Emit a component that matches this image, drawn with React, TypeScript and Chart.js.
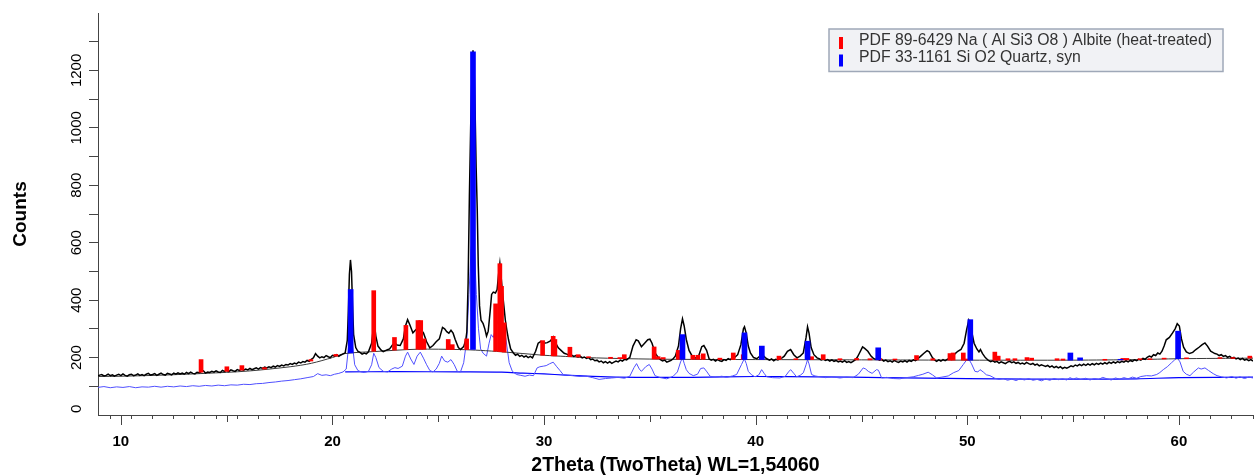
import React, { useEffect, useRef } from "react";
import { Chart, registerables } from "chart.js";

Chart.register(...registerables);

// ---------- axis ranges & labels ----------
const X_MIN = 8.92;
const X_MAX = 63.5;
const Y_MIN = 0;
const Y_MAX = 1400;
const xTickLabels = [10, 20, 30, 40, 50, 60];
const yTickLabels = [0, 200, 400, 600, 800, 1000, 1200];
const xTitle = "2Theta (TwoTheta) WL=1,54060";
const yTitle = "Counts";
const albiteLabel = "PDF 89-6429 Na ( Al Si3 O8 ) Albite (heat-treated)";
const quartzLabel = "PDF 33-1161 Si O2 Quartz, syn";

// ---------- measured scan (black) [2theta, counts] ----------
const sampleScan: [number, number][] = [
  [8.9, 136], [9.0, 139], [9.1, 141], [9.2, 136], [9.3, 138], [9.4, 142], [9.5, 137], [9.6, 140],
  [9.7, 135], [9.8, 139], [9.9, 142], [10.0, 137], [10.1, 143], [10.2, 138], [10.3, 135], [10.4, 140],
  [10.5, 142], [10.6, 137], [10.7, 139], [10.8, 143], [10.9, 138], [11.0, 141], [11.1, 137], [11.2, 142],
  [11.3, 145], [11.4, 139], [11.5, 141], [11.6, 144], [11.7, 138], [11.8, 142], [11.9, 146], [12.0, 141],
  [12.1, 139], [12.2, 145], [12.3, 143], [12.4, 140], [12.5, 146], [12.6, 142], [12.7, 147], [12.8, 143],
  [12.9, 146], [13.0, 142], [13.1, 148], [13.2, 144], [13.3, 149], [13.4, 145], [13.5, 143], [13.6, 149],
  [13.7, 147], [13.8, 151], [13.9, 154], [14.0, 146], [14.1, 150], [14.2, 148], [14.3, 152], [14.4, 149],
  [14.5, 154], [14.6, 150], [14.7, 148], [14.8, 155], [14.9, 152], [15.0, 156], [15.1, 151], [15.2, 157],
  [15.3, 154], [15.4, 152], [15.5, 158], [15.6, 155], [15.7, 159], [15.8, 156], [15.9, 160], [16.0, 157],
  [16.1, 162], [16.2, 158], [16.3, 161], [16.4, 164], [16.5, 160], [16.6, 165], [16.7, 162], [16.8, 167],
  [16.9, 164], [17.0, 168], [17.1, 165], [17.2, 170], [17.3, 167], [17.4, 172], [17.5, 169], [17.6, 174],
  [17.7, 171], [17.8, 176], [17.9, 174], [18.0, 179], [18.1, 176], [18.2, 181], [18.3, 178], [18.4, 184],
  [18.5, 181], [18.6, 186], [18.7, 184], [18.8, 190], [18.9, 187], [19.0, 194], [19.1, 199], [19.2, 214],
  [19.3, 205], [19.4, 199], [19.5, 203], [19.6, 200], [19.7, 207], [19.8, 203], [19.9, 200], [20.0, 208],
  [20.1, 205], [20.2, 210], [20.3, 204], [20.4, 209], [20.5, 213], [20.6, 216], [20.7, 260], [20.75, 360],
  [20.8, 490], [20.85, 540], [20.9, 500], [20.95, 380], [21.0, 280], [21.1, 235], [21.2, 222], [21.3, 218],
  [21.4, 212], [21.5, 216], [21.6, 213], [21.7, 220], [21.85, 250], [21.95, 315], [22.0, 305], [22.05, 275],
  [22.15, 240], [22.3, 226], [22.4, 221], [22.5, 224], [22.6, 227], [22.7, 230], [22.85, 245], [22.95, 250],
  [23.05, 244], [23.2, 242], [23.35, 265], [23.45, 310], [23.55, 332], [23.65, 315], [23.8, 286], [23.95, 298],
  [24.05, 305], [24.15, 300], [24.3, 286], [24.45, 255], [24.6, 234], [24.75, 242], [24.9, 255], [25.05, 265],
  [25.2, 305], [25.3, 300], [25.4, 290], [25.5, 285], [25.6, 295], [25.7, 285], [25.8, 263], [25.95, 235],
  [26.05, 228], [26.2, 238], [26.3, 262], [26.35, 290], [26.41, 460], [26.47, 760], [26.53, 1000], [26.59, 1180],
  [26.64, 1270], [26.69, 1220], [26.74, 1060], [26.79, 860], [26.84, 720], [26.89, 520], [26.95, 380],
  [27.02, 330], [27.12, 318], [27.2, 300], [27.28, 275], [27.36, 292], [27.45, 360], [27.52, 420], [27.6, 428],
  [27.7, 425], [27.78, 437], [27.85, 490], [27.91, 528], [27.97, 480], [28.03, 430], [28.1, 380], [28.17, 330],
  [28.24, 296], [28.32, 262], [28.42, 230], [28.55, 216], [28.65, 208], [28.75, 212], [28.85, 204],
  [28.95, 208], [29.05, 202], [29.15, 206], [29.25, 200], [29.35, 204], [29.45, 199], [29.6, 222], [29.72, 250],
  [29.85, 256], [30.0, 250], [30.15, 252], [30.3, 258], [30.43, 272], [30.55, 250], [30.67, 234], [30.8, 225],
  [30.95, 215], [31.1, 211], [31.2, 206], [31.3, 209], [31.4, 204], [31.5, 207], [31.6, 202], [31.7, 205],
  [31.8, 199], [31.9, 202], [32.0, 197], [32.1, 200], [32.2, 193], [32.3, 195], [32.4, 189], [32.5, 191],
  [32.6, 185], [32.7, 188], [32.8, 182], [32.9, 186], [33.0, 181], [33.1, 186], [33.2, 180], [33.3, 184],
  [33.4, 188], [33.5, 185], [33.6, 191], [33.7, 188], [33.8, 194], [33.9, 192], [34.0, 198], [34.05, 200],
  [34.2, 240], [34.35, 262], [34.45, 258], [34.6, 238], [34.75, 250], [34.9, 262], [35.0, 264], [35.1, 250],
  [35.25, 215], [35.4, 200], [35.5, 193], [35.6, 188], [35.7, 191], [35.8, 184], [35.9, 187], [36.0, 190],
  [36.1, 196], [36.2, 205], [36.35, 240], [36.45, 300], [36.54, 335], [36.62, 310], [36.72, 263], [36.85, 225],
  [37.0, 205], [37.1, 201], [37.2, 197], [37.3, 205], [37.45, 238], [37.55, 242], [37.68, 225], [37.8, 195],
  [37.9, 191], [38.0, 194], [38.1, 188], [38.2, 193], [38.3, 189], [38.4, 187], [38.5, 193], [38.6, 190],
  [38.7, 196], [38.8, 193], [38.9, 199], [39.0, 200], [39.15, 210], [39.3, 245], [39.42, 300], [39.47, 307],
  [39.55, 286], [39.65, 240], [39.75, 216], [39.9, 200], [40.05, 196], [40.2, 205], [40.3, 211], [40.45, 200],
  [40.55, 195], [40.65, 191], [40.75, 195], [40.85, 189], [40.95, 194], [41.05, 192], [41.15, 197],
  [41.25, 199], [41.35, 205], [41.5, 222], [41.65, 228], [41.8, 210], [41.95, 199], [42.1, 205], [42.25, 216],
  [42.38, 270], [42.45, 307], [42.52, 285], [42.62, 235], [42.75, 210], [42.9, 199], [43.0, 196], [43.1, 192],
  [43.2, 195], [43.3, 190], [43.4, 193], [43.5, 188], [43.6, 192], [43.7, 187], [43.8, 190], [43.9, 185],
  [44.0, 188], [44.1, 184], [44.2, 189], [44.3, 183], [44.4, 186], [44.5, 182], [44.6, 187], [44.7, 192],
  [44.8, 201], [44.9, 215], [45.05, 237], [45.15, 232], [45.3, 222], [45.45, 205], [45.55, 198], [45.65, 194],
  [45.75, 196], [45.85, 191], [45.95, 194], [46.05, 188], [46.15, 191], [46.25, 186], [46.35, 189],
  [46.45, 184], [46.55, 190], [46.65, 186], [46.75, 183], [46.85, 188], [46.95, 185], [47.05, 189],
  [47.15, 184], [47.25, 190], [47.35, 187], [47.45, 192], [47.55, 189], [47.65, 195], [47.8, 205],
  [47.95, 215], [48.1, 224], [48.2, 220], [48.35, 200], [48.45, 192], [48.55, 187], [48.65, 192], [48.75, 188],
  [48.85, 193], [48.95, 189], [49.05, 194], [49.2, 200], [49.4, 212], [49.55, 222], [49.7, 228], [49.85, 250],
  [49.97, 298], [50.07, 330], [50.15, 315], [50.22, 286], [50.32, 250], [50.45, 230], [50.55, 220],
  [50.62, 228], [50.72, 214], [50.85, 200], [51.0, 190], [51.1, 186], [51.2, 189], [51.3, 184], [51.4, 187],
  [51.5, 181], [51.6, 185], [51.7, 182], [51.8, 179], [51.9, 184], [52.0, 187], [52.1, 182], [52.2, 185],
  [52.3, 180], [52.4, 183], [52.5, 178], [52.6, 181], [52.7, 177], [52.8, 183], [52.9, 179], [53.0, 176],
  [53.1, 180], [53.2, 174], [53.3, 177], [53.4, 171], [53.5, 175], [53.6, 172], [53.7, 169], [53.8, 173],
  [53.9, 167], [54.0, 171], [54.1, 165], [54.2, 169], [54.3, 164], [54.4, 168], [54.5, 162], [54.6, 166],
  [54.7, 163], [54.8, 167], [54.9, 171], [55.0, 168], [55.1, 174], [55.2, 171], [55.3, 176], [55.4, 172],
  [55.5, 177], [55.6, 173], [55.7, 178], [55.8, 174], [55.9, 179], [56.0, 175], [56.1, 180], [56.2, 176],
  [56.3, 181], [56.4, 177], [56.5, 182], [56.6, 178], [56.7, 184], [56.8, 180], [56.9, 185], [57.0, 181],
  [57.1, 186], [57.2, 182], [57.3, 187], [57.4, 184], [57.5, 189], [57.6, 185], [57.7, 190], [57.8, 187],
  [57.9, 192], [58.0, 189], [58.1, 194], [58.2, 191], [58.3, 197], [58.4, 194], [58.5, 201], [58.6, 205],
  [58.7, 202], [58.8, 210], [58.9, 207], [59.0, 216], [59.1, 212], [59.2, 222], [59.3, 240], [59.4, 262],
  [59.55, 270], [59.7, 286], [59.82, 300], [59.92, 318], [60.02, 310], [60.12, 265], [60.22, 236],
  [60.35, 220], [60.5, 214], [60.65, 218], [60.8, 228], [60.95, 236], [61.1, 245], [61.23, 251], [61.35, 240],
  [61.5, 222], [61.6, 218], [61.7, 214], [61.8, 212], [61.9, 207], [62.0, 210], [62.1, 204], [62.2, 207],
  [62.3, 201], [62.4, 204], [62.5, 198], [62.6, 201], [62.7, 195], [62.8, 198], [62.9, 193], [63.0, 197],
  [63.1, 191], [63.2, 194], [63.3, 189], [63.4, 193], [63.5, 188],
];

// ---------- background of measured scan ----------
const sampleBackground: [number, number][] = [
  [8.9, 134], [10, 135], [12, 139], [14, 145], [16, 153], [18, 168], [19, 180], [20, 200], [20.6, 214],
  [22, 221], [24, 229], [26, 228], [27, 225], [28, 220], [29, 214], [30, 208], [31, 204], [32, 200],
  [34, 196], [36, 194], [40, 193], [45, 192], [50, 191], [55, 191], [58, 193], [60, 196], [63.5, 198],
];

// ---------- second scan (blue) ----------
const processedScan: [number, number][] = [
  [8.9, 96], [9.2, 99], [9.5, 95], [9.8, 98], [10.1, 96], [10.4, 99], [10.7, 95], [11.0, 98], [11.3, 97],
  [11.6, 100], [11.9, 97], [12.2, 100], [12.5, 98], [12.8, 101], [13.1, 99], [13.4, 102], [13.7, 100],
  [14.0, 103], [14.3, 101], [14.6, 104], [14.9, 102], [15.2, 105], [15.5, 104], [15.8, 107], [16.1, 106],
  [16.4, 109], [16.7, 110], [17.0, 113], [17.3, 115], [17.6, 118], [17.9, 120], [18.2, 123], [18.5, 126],
  [18.8, 130], [19.1, 134], [19.3, 144], [19.5, 138], [19.7, 140], [19.9, 137], [20.1, 142], [20.3, 145],
  [20.5, 150], [20.65, 160], [20.75, 230], [20.85, 300], [20.95, 240], [21.05, 175], [21.2, 155], [21.35, 150],
  [21.5, 148], [21.7, 152], [21.85, 175], [21.95, 215], [22.05, 200], [22.2, 165], [22.4, 152], [22.6, 150],
  [22.8, 160], [22.95, 165], [23.1, 162], [23.3, 170], [23.45, 205], [23.55, 219], [23.7, 195], [23.85, 176],
  [24.0, 205], [24.15, 219], [24.3, 198], [24.45, 175], [24.6, 155], [24.75, 150], [24.9, 160], [25.05, 180],
  [25.16, 205], [25.3, 188], [25.45, 184], [25.6, 193], [25.75, 176], [25.9, 152], [26.05, 150], [26.2, 182],
  [26.35, 265], [26.45, 420], [26.55, 580], [26.64, 635], [26.72, 560], [26.8, 420], [26.9, 300], [27.0, 230],
  [27.12, 215], [27.28, 205], [27.4, 250], [27.5, 280], [27.6, 270], [27.7, 300], [27.82, 330], [27.93, 345],
  [28.05, 320], [28.2, 263], [28.35, 182], [28.5, 152], [28.7, 141], [28.9, 138], [29.1, 135], [29.3, 139],
  [29.5, 137], [29.67, 164], [29.8, 168], [29.96, 170], [30.1, 172], [30.25, 178], [30.43, 184], [30.6, 168],
  [30.75, 155], [30.9, 141], [31.1, 139], [31.4, 137], [31.7, 134], [32.0, 135], [32.3, 130], [32.6, 124],
  [32.9, 127], [33.2, 129], [33.5, 131], [33.8, 128], [34.05, 135], [34.25, 165], [34.37, 179], [34.5, 160],
  [34.6, 152], [34.8, 168], [34.97, 176], [35.1, 160], [35.24, 137], [35.5, 130], [35.8, 126], [36.1, 135],
  [36.3, 150], [36.45, 185], [36.54, 199], [36.62, 180], [36.72, 158], [36.85, 145], [37.05, 137], [37.25, 142],
  [37.4, 162], [37.55, 164], [37.7, 150], [37.84, 135], [38.1, 132], [38.4, 135], [38.62, 131], [38.9, 136],
  [39.1, 141], [39.33, 176], [39.46, 196], [39.55, 180], [39.65, 152], [39.8, 140], [39.97, 133], [40.15, 140],
  [40.28, 158], [40.4, 145], [40.52, 133], [40.8, 130], [41.14, 129], [41.4, 135], [41.55, 150], [41.65, 158],
  [41.8, 145], [41.93, 133], [42.1, 138], [42.25, 147], [42.38, 175], [42.45, 193], [42.52, 178], [42.64, 141],
  [42.8, 136], [43.04, 133], [43.3, 130], [43.6, 133], [43.98, 129], [44.3, 132], [44.6, 130], [44.85, 142],
  [45.08, 164], [45.2, 160], [45.32, 152], [45.5, 145], [45.71, 158], [45.8, 156], [45.95, 129], [46.2, 131],
  [46.5, 127], [46.81, 126], [47.1, 130], [47.44, 133], [47.7, 138], [47.9, 142], [48.15, 149], [48.35, 140],
  [48.55, 129], [48.8, 132], [49.1, 136], [49.34, 147], [49.6, 155], [49.81, 176], [49.95, 190], [50.09, 192],
  [50.2, 178], [50.36, 152], [50.5, 150], [50.6, 158], [50.75, 150], [50.9, 140], [51.07, 137], [51.3, 128],
  [51.5, 124], [51.7, 127], [51.9, 121], [52.1, 125], [52.3, 120], [52.5, 126], [52.7, 122], [52.9, 127],
  [53.1, 121], [53.3, 124], [53.5, 119], [53.7, 125], [53.9, 121], [54.1, 127], [54.3, 123], [54.5, 126],
  [54.7, 122], [54.85, 130], [55.0, 125], [55.16, 129], [55.35, 124], [55.6, 128], [55.8, 122], [56.0, 127],
  [56.2, 124], [56.4, 131], [56.6, 126], [56.8, 122], [57.0, 129], [57.2, 125], [57.4, 130], [57.6, 126],
  [57.8, 132], [58.0, 128], [58.2, 134], [58.47, 137], [58.7, 136], [58.95, 141], [59.1, 148], [59.26, 158],
  [59.45, 168], [59.65, 182], [59.8, 192], [59.92, 199], [60.05, 185], [60.2, 152], [60.35, 142], [60.52, 137],
  [60.7, 150], [60.92, 164], [61.05, 160], [61.23, 164], [61.4, 155], [61.62, 144], [61.8, 137], [62.0, 133],
  [62.25, 129], [62.5, 134], [62.7, 128], [62.88, 133], [63.1, 127], [63.3, 132], [63.5, 129],
];

// ---------- background of second scan ----------
const processedBackground: [number, number][] = [
  [20.6, 150], [23, 151], [26, 150], [28, 149], [29, 146], [30, 143], [31, 139], [33, 133], [35, 131],
  [37, 131], [40, 134], [43, 133], [46, 130], [50, 127], [53, 125], [56, 125], [58, 126], [60, 130], [63.5, 132],
];

// ---------- reference sticks: [2theta, base counts, top counts] ----------
const albiteSticks: [number, number, number][] = [
  [13.79, 149, 193], [15.01, 152, 168], [15.72, 156, 172], [16.79, 160, 165], [18.98, 188, 193],
  [20.16, 205, 211], [21.95, 222, 433], [22.93, 226, 270], [23.47, 228, 312], [24.04, 229, 329],
  [24.17, 229, 329], [24.32, 229, 265], [25.47, 228, 263], [25.66, 228, 245], [26.34, 228, 265],
  [27.71, 222, 387], [27.91, 221, 527], [27.99, 221, 448], [28.11, 219, 321], [29.93, 208, 259],
  [30.43, 206, 274], [30.51, 206, 263], [31.22, 203, 236], [31.61, 202, 210], [32.1, 200, 203],
  [33.14, 197, 201], [33.58, 196, 200], [33.79, 196, 210], [35.2, 195, 237], [35.39, 195, 203],
  [35.63, 195, 200], [36.34, 194, 225], [37.03, 194, 208], [37.27, 194, 208], [37.52, 194, 213],
  [38.31, 193, 198], [38.94, 193, 216], [39.41, 193, 210], [40.28, 193, 198], [41.1, 193, 205],
  [41.9, 193, 196], [42.64, 193, 203], [43.19, 193, 210], [43.98, 192, 196], [44.77, 192, 197],
  [45.4, 192, 196], [45.87, 192, 196], [46.58, 192, 195], [47.6, 192, 207], [48.37, 191, 196],
  [49.18, 191, 214], [49.33, 191, 216], [49.81, 191, 216], [49.97, 191, 195], [51.3, 191, 219],
  [51.46, 191, 205], [51.92, 191, 196], [52.25, 191, 196], [52.82, 191, 200], [53.04, 191, 198],
  [54.24, 191, 196], [54.52, 191, 195], [56.5, 191, 194], [57.35, 192, 197], [57.54, 192, 197],
  [58.16, 193, 196], [58.63, 193, 196], [59.3, 195, 198], [60.36, 196, 199], [61.94, 197, 200],
  [62.55, 197, 200], [63.35, 198, 205],
];

const quartzSticks: [number, number, number][] = [
  [20.86, 216, 437], [26.64, 228, 1265], [36.54, 194, 280], [39.47, 193, 286], [40.29, 193, 240],
  [42.45, 193, 257], [45.79, 192, 234], [50.14, 191, 332], [54.87, 191, 216], [55.33, 191, 199],
  [57.24, 192, 194], [59.96, 196, 292],
];

const NARROW = "'Liberation Sans Narrow', 'Liberation Sans', Arial, sans-serif";
const SANS = "'Liberation Sans', Arial, Helvetica, sans-serif";

const decorPlugin = {
  id: "xrdDecor",
  afterDraw(chart: any) {
    const { ctx, chartArea, scales } = chart;
    const xs = scales.x;
    const ys = scales.y;
    ctx.save();
    // longer x ticks at every 5 / 10 degrees
    ctx.strokeStyle = "#444";
    ctx.lineWidth = 1;
    for (let v = Math.ceil(X_MIN); v <= X_MAX; v++) {
      if (v % 5 !== 0) continue;
      const px = Math.round(xs.getPixelForValue(v)) + 0.5;
      const len = v % 10 === 0 ? 10 : 7;
      ctx.beginPath();
      ctx.moveTo(px, chartArea.bottom);
      ctx.lineTo(px, chartArea.bottom + len);
      ctx.stroke();
    }
    // rotated y tick labels
    ctx.fillStyle = "#000";
    ctx.font = `15px ${NARROW}`;
    ctx.textAlign = "center";
    ctx.textBaseline = "middle";
    for (const v of yTickLabels) {
      const t = String(v);
      const w = ctx.measureText(t).width;
      let py = ys.getPixelForValue(v);
      py = Math.min(py, chartArea.bottom - w / 2 - 2);
      ctx.save();
      ctx.translate(chartArea.left - 21, py);
      ctx.rotate(-Math.PI / 2);
      ctx.fillText(t, 0, 0);
      ctx.restore();
    }
    // legend box
    const box = { left: 829, top: 29, right: 1223, bottom: 71.5 };
    ctx.fillStyle = "#f1f2f5";
    ctx.fillRect(box.left, box.top, box.right - box.left, box.bottom - box.top);
    ctx.strokeStyle = "#9fa8b8";
    ctx.lineWidth = 1.5;
    ctx.strokeRect(box.left, box.top, box.right - box.left, box.bottom - box.top);
    const items = chart.data.datasets.filter((d: any) => d.type === "bar");
    items.sort((a: any, b: any) => a.legendRank - b.legendRank);
    ctx.font = `15.8px ${SANS}`;
    ctx.textAlign = "left";
    ctx.textBaseline = "middle";
    items.forEach((d: any, i: number) => {
      const cy = box.top + 11 + i * 17.5;
      ctx.fillStyle = d.backgroundColor;
      ctx.fillRect(box.left + 10, cy - 3, 4, 12);
      ctx.fillStyle = "#333";
      ctx.fillText(d.label, box.left + 30, cy + 0.5);
    });
    ctx.restore();
  },
};

export default function App() {
  const canvasRef = useRef<HTMLCanvasElement | null>(null);

  useEffect(() => {
    const canvas = canvasRef.current;
    if (!canvas) return;
    const toPts = (arr: [number, number][]) => arr.map(([x, y]) => ({ x, y }));
    const toBars = (arr: [number, number, number][]) => arr.map(([x, lo, hi]) => ({ x, y: [lo, hi] }));

    const chart = new Chart(canvas, {
      type: "line",
      data: {
        datasets: [
          {
            type: "bar",
            label: quartzLabel,
            legendRank: 1,
            data: toBars(quartzSticks),
            backgroundColor: "#0000ff",
            borderWidth: 0,
            barThickness: 5,
            grouped: false,
            order: 0,
          } as any,
          {
            type: "bar",
            label: albiteLabel,
            legendRank: 0,
            data: toBars(albiteSticks),
            backgroundColor: "#ff0000",
            borderWidth: 0,
            barThickness: 4,
            grouped: false,
            order: 1,
          } as any,
          {
            type: "line",
            label: "scan",
            data: toPts(sampleScan),
            borderColor: "#000000",
            borderWidth: 1.5,
            pointRadius: 0,
            tension: 0,
            order: 2,
          },
          {
            type: "line",
            label: "scan background",
            data: toPts(sampleBackground),
            borderColor: "#3a3a3a",
            borderWidth: 1,
            pointRadius: 0,
            tension: 0.3,
            order: 3,
          },
          {
            type: "line",
            label: "second scan",
            data: toPts(processedScan),
            borderColor: "#5050ff",
            borderWidth: 1,
            pointRadius: 0,
            tension: 0,
            order: 4,
          },
          {
            type: "line",
            label: "second background",
            data: toPts(processedBackground),
            borderColor: "#0000ff",
            borderWidth: 1.2,
            pointRadius: 0,
            tension: 0.3,
            order: 5,
          },
        ],
      },
      options: {
        responsive: false,
        animation: false,
        parsing: true,
        layout: { padding: { top: 13, right: 5, left: 0, bottom: 0 } },
        plugins: {
          legend: { display: false },
          tooltip: { enabled: false },
        },
        scales: {
          x: {
            type: "linear",
            position: "bottom",
            min: X_MIN,
            max: X_MAX,
            offset: false,
            afterFit: (s: any) => {
              s.height = 60;
            },
            border: { display: true, color: "#444", width: 1 },
            grid: {
              display: true,
              drawOnChartArea: false,
              drawTicks: true,
              tickLength: 4,
              color: "#444",
            },
            ticks: {
              stepSize: 1,
              autoSkip: false,
              includeBounds: false,
              maxRotation: 0,
              minRotation: 0,
              padding: 14,
              color: "#000",
              font: { family: NARROW, size: 15, weight: "bold" },
              callback: (v: any) => (xTickLabels.includes(Number(v)) ? String(v) : ""),
            },
            title: {
              display: true,
              text: xTitle,
              color: "#000",
              font: { family: SANS, size: 19.5, weight: "bold", lineHeight: 1 },
              padding: { top: 0, bottom: 0 },
            },
          },
          y: {
            type: "linear",
            position: "left",
            min: Y_MIN,
            max: Y_MAX,
            afterFit: (s: any) => {
              s.width = 98;
            },
            border: { display: true, color: "#444", width: 1 },
            grid: {
              display: true,
              drawOnChartArea: false,
              drawTicks: true,
              tickLength: 9,
              color: "#444",
              tickColor: (c: any) =>
                c.tick && (c.tick.value === Y_MIN || c.tick.value === Y_MAX) ? "rgba(0,0,0,0)" : "#444",
            },
            ticks: {
              stepSize: 100,
              autoSkip: false,
              includeBounds: false,
              color: "#000",
              font: { size: 10 },
              callback: () => "",
            },
            title: {
              display: true,
              text: yTitle,
              color: "#000",
              font: { family: SANS, size: 19, weight: "bold", lineHeight: 1 },
              padding: { top: 11, bottom: 0 },
            },
          },
        },
      } as any,
      plugins: [decorPlugin],
    });

    return () => {
      chart.destroy();
    };
  }, []);

  return (
    <div style={{ position: "fixed", left: 0, top: 0, width: 1258, height: 475, background: "#fff" }}>
      <canvas ref={canvasRef} width={1258} height={475} style={{ display: "block" }} />
    </div>
  );
}
